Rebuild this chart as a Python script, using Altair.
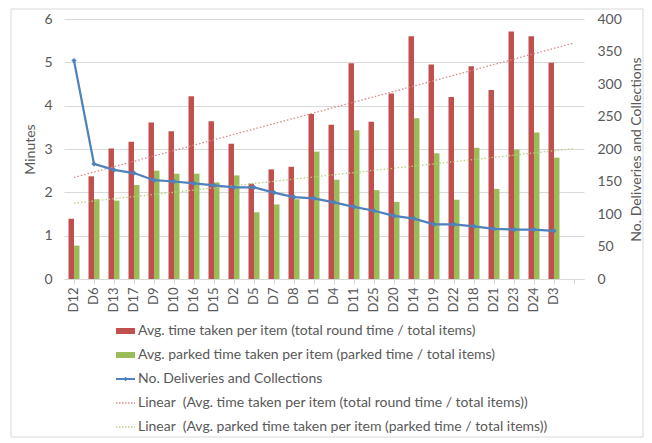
import altair as alt
import pandas as pd
import numpy as np

categories = ["D12", "D6", "D13", "D17", "D9", "D10", "D16", "D15", "D2", "D5", "D7", "D8", "D1",
              "D4", "D11", "D25", "D20", "D14", "D19", "D22", "D18", "D21", "D23", "D24", "D3"]
avg_time = [1.39, 2.37, 3.01, 3.17, 3.61, 3.41, 4.22, 3.64, 3.12, 2.20, 2.53, 2.59, 3.81,
            3.56, 4.98, 3.63, 4.28, 5.60, 4.95, 4.20, 4.91, 4.36, 5.71, 5.60, 4.99]
avg_parked = [0.77, 1.84, 1.81, 2.17, 2.50, 2.43, 2.43, 2.23, 2.39, 1.54, 1.72, 1.84, 2.94,
              2.29, 3.43, 2.05, 1.78, 3.71, 2.90, 1.83, 3.03, 2.08, 2.99, 3.38, 2.80]
deliveries = [336, 177, 168, 163, 152, 150, 147, 144, 141, 141, 133, 126, 124,
              118, 111, 105, 97, 93, 84, 84, 81, 77, 76, 76, 74]

S1 = "Avg. time taken per item (total round time / total items)"
S2 = "Avg. parked time taken per item (parked time / total items)"
S3 = "No. Deliveries and Collections"
T1 = "Linear\u00a0 (" + S1 + ")"
T2 = "Linear\u00a0 (" + S2 + ")"
legend_labels = [S1, S2, S3, T1, T2]

RED = "#C0504D"
GREEN = "#9BBB59"
BLUE = "#4F81BD"
RED_T = "#D98A88"
GREEN_T = "#B9CF86"
TXT = "#595959"
GRID = "#D9D9D9"
FONT = "Lato"

x_domain = categories + [" "]

bars_df = pd.DataFrame({
    "cat": categories * 2,
    "series": [S1] * len(categories) + [S2] * len(categories),
    "value": avg_time + avg_parked,
})

# linear trend lines (least squares fit of each series over category index)
idx = np.arange(1, len(categories) + 1)
idx_ext = np.arange(1, len(x_domain) + 1)
p1 = np.polyfit(idx, avg_time, 1)
p2 = np.polyfit(idx, avg_parked, 1)
trend_df = pd.DataFrame({
    "cat": x_domain * 2,
    "series": [T1] * len(x_domain) + [T2] * len(x_domain),
    "value": list(np.polyval(p1, idx_ext)) + list(np.polyval(p2, idx_ext)),
})

line_df = pd.DataFrame({"cat": categories, "count": deliveries})

color_scale = alt.Scale(domain=[S1, S2, T1, T2], range=[RED, GREEN, RED_T, GREEN_T])

xenc = alt.X(
    "cat:N", sort=x_domain,
    scale=alt.Scale(domain=x_domain, paddingInner=0, paddingOuter=0),
    axis=alt.Axis(title=None, labelAngle=270, labelColor=TXT, labelFont=FONT, labelFontSize=13,
                  domainColor=GRID, tickColor=GRID, tickSize=5, labelPadding=3, grid=False),
)
left_axis = alt.Axis(title="Minutes", values=[0, 1, 2, 3, 4, 5, 6], grid=True, gridColor=GRID,
                     domain=False, ticks=False, labelColor=TXT, labelFont=FONT, labelFontSize=14,
                     labelPadding=12, titleColor=TXT, titleFont=FONT, titleFontSize=14,
                     titleFontWeight="normal", titlePadding=6)
yleft = alt.Y("value:Q", scale=alt.Scale(domain=[0, 6]), axis=left_axis)

bars = alt.Chart(bars_df).mark_bar().encode(
    x=xenc,
    xOffset=alt.XOffset("series:N", sort=[S1, S2],
                        scale=alt.Scale(paddingInner=0, paddingOuter=0.82)),
    y=yleft,
    color=alt.Color("series:N", scale=color_scale, legend=None),
)

trends = alt.Chart(trend_df).mark_line(strokeWidth=1.3, strokeDash=[1.5, 2]).encode(
    x=xenc,
    y=yleft,
    color=alt.Color("series:N", scale=color_scale, legend=None),
)

left_layer = alt.layer(bars, trends)

right_axis = alt.Axis(title=S3, orient="right", values=list(range(0, 401, 50)), grid=False,
                      domain=False, ticks=False, labelColor=TXT, labelFont=FONT, labelFontSize=14,
                      labelPadding=13, titleColor=TXT, titleFont=FONT, titleFontSize=14,
                      titleFontWeight="normal", titlePadding=8, titleAngle=270,
                      titleBaseline="top")
line = alt.Chart(line_df).mark_line(
    color=BLUE, strokeWidth=2.25,
    point=alt.OverlayMarkDef(shape="diamond", size=28, filled=True, color=BLUE),
).encode(
    x=xenc,
    y=alt.Y("count:Q", scale=alt.Scale(domain=[0, 400]), axis=right_axis),
)

top = alt.layer(left_layer, line).resolve_scale(y="independent").properties(width=520, height=260)

# legend panel
legend_df = pd.DataFrame({"row": list(range(len(legend_labels))), "label": legend_labels})
ly = alt.Y("row:O", axis=None, scale=alt.Scale(paddingInner=0, paddingOuter=0))
lbase = alt.Chart(legend_df)

def row(i):
    return lbase.transform_filter(f"datum.row == {i}")

sw_red = row(0).mark_rule(color=RED, strokeWidth=6).encode(x=alt.value(52), x2=alt.value(71), y=ly)
sw_green = row(1).mark_rule(color=GREEN, strokeWidth=6).encode(x=alt.value(52), x2=alt.value(71), y=ly)
sw_blue = row(2).mark_rule(color=BLUE, strokeWidth=2).encode(x=alt.value(52), x2=alt.value(71), y=ly)
sw_blue_pt = row(2).mark_point(shape="diamond", filled=True, size=20, color=BLUE, opacity=1).encode(
    x=alt.value(61.5), y=ly)
sw_rt = row(3).mark_rule(color=RED_T, strokeWidth=1.3, strokeDash=[1.5, 1.5]).encode(
    x=alt.value(52), x2=alt.value(71), y=ly)
sw_gt = row(4).mark_rule(color=GREEN_T, strokeWidth=1.3, strokeDash=[1.5, 1.5]).encode(
    x=alt.value(52), x2=alt.value(71), y=ly)
ltext = lbase.mark_text(align="left", baseline="middle", font=FONT, fontSize=14, color=TXT).encode(
    x=alt.value(74), y=ly, text="label:N")
border = row(0).mark_rect(fillOpacity=0, stroke=GRID, strokeWidth=1).encode(
    x=alt.value(-53), x2=alt.value(579), y=alt.value(-310), y2=alt.value(118))

legend = alt.layer(border, sw_red, sw_green, sw_blue, sw_blue_pt, sw_rt, sw_gt, ltext).properties(
    width=520, height=120)

chart = alt.vconcat(top, legend, spacing=40, bounds="flush").properties(
    padding={"left": 2, "top": 0, "right": 0, "bottom": 0}
).configure_view(strokeWidth=0)

chart.save("out.html", embed_options={"renderer": "svg", "actions": False})
